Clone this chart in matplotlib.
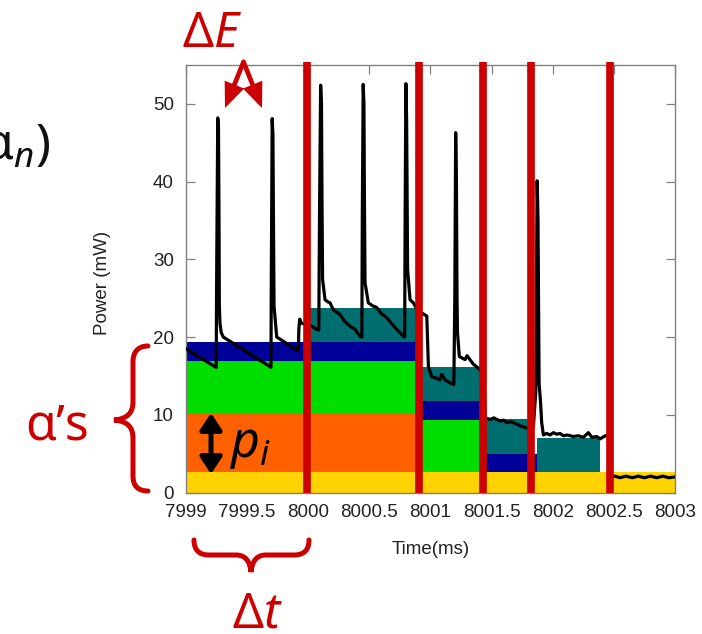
import numpy as np
import matplotlib
matplotlib.use("Agg")
import matplotlib.pyplot as plt
from matplotlib.path import Path
from matplotlib.patches import PathPatch, FancyArrowPatch, Rectangle

#---- data

x_ticks = [7999, 7999.5, 8000, 8000.5, 8001, 8001.5, 8002, 8002.5, 8003]
x_tick_labels = ["7999", "7999.5", "8000", "8000.5", "8001", "8001.5", "8002", "8002.5", "8003"]
y_ticks = [0, 10, 20, 30, 40, 50]

# stacked power blocks (alpha's)
block_x0 = [7999.00, 7999.00, 7999.00, 7999.00, 8000.00, 8000.91, 8000.91, 8000.91, 8001.43, 8001.43, 8001.87]
block_x1 = [8003.00, 8000.91, 8000.91, 8000.91, 8000.91, 8001.43, 8001.43, 8001.43, 8001.87, 8001.82, 8002.39]
block_lo = [0.0, 2.6, 10.1, 16.9, 19.4, 2.6, 9.3, 11.8, 2.6, 5.0, 2.6]
block_hi = [2.6, 10.1, 16.9, 19.4, 23.8, 9.3, 11.8, 16.2, 5.0, 9.5, 7.0]
block_kind = ["yellow", "orange", "green", "blue", "teal", "green", "blue", "teal", "blue", "teal", "teal"]

# state boundaries (red lines)
boundaries = [7999.99, 8000.91, 8001.43, 8001.82, 8002.47]

# measured power trace
trace_t = [7999.000, 7999.240, 7999.249, 7999.254, 7999.262, 7999.268, 7999.272, 7999.275, 7999.280, 7999.290,
           7999.307, 7999.689, 7999.697, 7999.700, 7999.707, 7999.713, 7999.718, 7999.722, 7999.730, 7999.744,
           7999.921, 7999.925, 7999.932, 7999.945, 8000.030, 8000.070, 8000.088, 8000.094, 8000.103, 8000.110,
           8000.114, 8000.119, 8000.139, 8000.165, 8000.180, 8000.207, 8000.262, 8000.300, 8000.343, 8000.384,
           8000.425, 8000.440, 8000.444, 8000.451, 8000.457, 8000.461, 8000.466, 8000.493, 8000.530, 8000.562,
           8000.600, 8000.643, 8000.690, 8000.725, 8000.779, 8000.790, 8000.794, 8000.800, 8000.806, 8000.810,
           8000.814, 8000.834, 8000.861, 8000.890, 8000.930, 8000.971, 8000.984, 8001.011, 8001.052, 8001.079,
           8001.093, 8001.120, 8001.161, 8001.192, 8001.200, 8001.207, 8001.213, 8001.218, 8001.222, 8001.237,
           8001.284, 8001.300, 8001.319, 8001.352, 8001.392, 8001.440, 8001.448, 8001.488, 8001.520, 8001.543,
           8001.570, 8001.600, 8001.625, 8001.660, 8001.693, 8001.733, 8001.783, 8001.842, 8001.862, 8001.873,
           8001.880, 8001.884, 8001.889, 8001.900, 8001.910, 8001.924, 8001.950, 8001.979, 8002.006, 8002.033,
           8002.060, 8002.088, 8002.120, 8002.169, 8002.210, 8002.251, 8002.292, 8002.320, 8002.360, 8002.388,
           8002.429, 8002.465, 8002.470, 8002.510, 8002.550, 8002.600, 8002.650, 8002.700, 8002.750, 8002.800,
           8002.850, 8002.900, 8002.950, 8003.000]
trace_p = [18.5, 16.2, 16.1, 30.0, 48.2, 47.0, 36.0, 24.0, 21.8, 20.6,
           20.0, 16.2, 16.1, 28.0, 48.1, 46.0, 33.0, 24.0, 22.5, 20.0,
           18.2, 21.0, 22.3, 21.8, 21.4, 21.0, 20.9, 36.0, 52.4, 50.0,
           38.0, 27.4, 24.8, 24.5, 24.4, 23.5, 22.9, 22.0, 21.4, 21.0,
           20.1, 20.0, 36.0, 52.5, 50.0, 38.0, 27.0, 24.4, 24.0, 23.8,
           23.0, 22.5, 21.6, 21.0, 20.1, 20.0, 36.0, 52.6, 48.0, 38.0,
           28.7, 24.8, 24.4, 23.6, 23.1, 22.7, 16.2, 14.9, 14.7, 14.5,
           15.2, 14.5, 14.1, 13.9, 25.0, 46.3, 40.0, 25.0, 20.5, 17.5,
           17.1, 17.6, 17.2, 16.5, 16.0, 15.0, 9.6, 9.4, 9.6, 9.4,
           9.2, 9.3, 9.0, 9.1, 8.9, 8.6, 8.3, 8.4, 13.0, 40.1,
           35.0, 25.0, 14.0, 11.8, 9.0, 7.4, 7.6, 7.4, 7.7, 7.5,
           7.6, 7.3, 7.4, 7.2, 7.3, 7.1, 7.7, 7.1, 7.2, 6.9,
           7.3, 7.3, 2.0, 2.1, 1.9, 2.1, 1.9, 2.1, 1.9, 2.1,
           1.9, 2.1, 1.9, 2.0]

#---- styles

colors = {"yellow": "#ffd200", "orange": "#ff6100", "green": "#00dd00",
          "blue": "#000099", "teal": "#006e6e"}
RED = "#cc0000"
W, H = 702, 634

plt.rcParams['font.family'] = ['Liberation Sans', 'DejaVu Sans']
plt.rcParams['mathtext.fontset'] = 'custom'
plt.rcParams['mathtext.rm'] = 'Noto Sans'
plt.rcParams['mathtext.it'] = 'Noto Sans:italic'

def fx(px):
    return px / W

def fy(py):
    return 1 - py / H

fig = plt.figure(figsize=(W / 100, H / 100), dpi=100)
ax = fig.add_axes([fx(185.7), fy(492.5), fx(675) - fx(185.7), fy(65) - fy(492.5)])

for x0, x1, lo, hi, k in zip(block_x0, block_x1, block_lo, block_hi, block_kind):
    ax.add_patch(Rectangle((x0, lo), x1 - x0, hi - lo, facecolor=colors[k], edgecolor='none', zorder=1))

ax.plot(trace_t, trace_p, color='black', lw=2.3, zorder=3)
ax.vlines(boundaries, 0, 55.45, colors=RED, lw=5.5, zorder=4, clip_on=False)

ax.set_xlim(7999, 8003)
ax.set_ylim(0, 55)
ax.set_xticks(x_ticks)
ax.set_xticklabels(x_tick_labels)
ax.set_yticks(y_ticks)
ax.set_axisbelow(True)
ax.tick_params(direction='in', top=True, right=True, bottom=False, length=6.5, width=0.9,
               color='#808080', labelcolor='#222222', labelsize=13.5, pad=8.5)
for s in ax.spines.values():
    s.set_color('#808080')
    s.set_linewidth(1.0)

ax.set_xlabel('Time(ms)', fontsize=13.5, color='#222222')
ax.set_ylabel('Power (mW)', fontsize=13.5, color='#222222')
ax.xaxis.set_label_coords(0.5, -0.113)
ax.yaxis.set_label_coords(-0.152, 0.49)

#---- annotations (pixel positions of the picture)

fig.text(fx(212), fy(47), r'$\Delta E$', color=RED, fontsize=35, ha='center', va='baseline')
fig.text(fx(257), fy(627), r'$\Delta t$', color=RED, fontsize=35, ha='center', va='baseline')
fig.text(fx(57), fy(440), 'α’s', color=RED, fontsize=36, ha='center', va='baseline', family='Noto Sans')
fig.text(fx(250), fy(457), r'$p_i$', color='black', fontsize=36, ha='center', va='baseline')
fig.text(fx(50), fy(160), r'$\mathrm{\alpha}_n)$', color='#111111', fontsize=36, ha='right', va='baseline')

# dE arrows
for tip in [(225, 108), (262, 108)]:
    fig.patches.append(FancyArrowPatch((fx(243.5), fy(62)), (fx(tip[0]), fy(tip[1])),
                                       transform=fig.transFigure, arrowstyle='-|>,head_length=0.6,head_width=0.25',
                                       mutation_scale=20, lw=3.4, color=RED, shrinkA=0, shrinkB=0,
                                       joinstyle='miter'))
# p_i arrow
fig.patches.append(FancyArrowPatch((fx(211), fy(413)), (fx(211), fy(474)),
                                   transform=fig.transFigure, arrowstyle='<|-|>,head_length=0.5,head_width=0.33',
                                   mutation_scale=20, lw=3.6, color='black', shrinkA=0, shrinkB=0))

# braces
codes = [Path.MOVETO, Path.CURVE4, Path.CURVE4, Path.CURVE4, Path.LINETO,
         Path.CURVE4, Path.CURVE4, Path.CURVE4, Path.CURVE4, Path.CURVE4, Path.CURVE4,
         Path.LINETO, Path.CURVE4, Path.CURVE4, Path.CURVE4]
left_brace = [(148, 346), (138, 346), (133, 352), (133, 362), (133, 402),
              (133, 414), (126, 419), (114, 420), (126, 421), (133, 426), (133, 438),
              (133, 476), (133, 486), (138, 491), (148, 491)]
bottom_brace = [(194, 540), (194, 550), (199, 555), (209, 555), (236, 555),
                (246, 555), (250, 562), (251, 572), (252, 562), (256, 555), (266, 555),
                (294, 555), (304, 555), (309, 550), (309, 540)]
for pts in [left_brace, bottom_brace]:
    verts = [(fx(a), fy(b)) for a, b in pts]
    fig.patches.append(PathPatch(Path(verts, codes), transform=fig.transFigure,
                                 facecolor='none', edgecolor=RED, lw=3.6, capstyle='round'))

plt.savefig('out.png', dpi=100)
